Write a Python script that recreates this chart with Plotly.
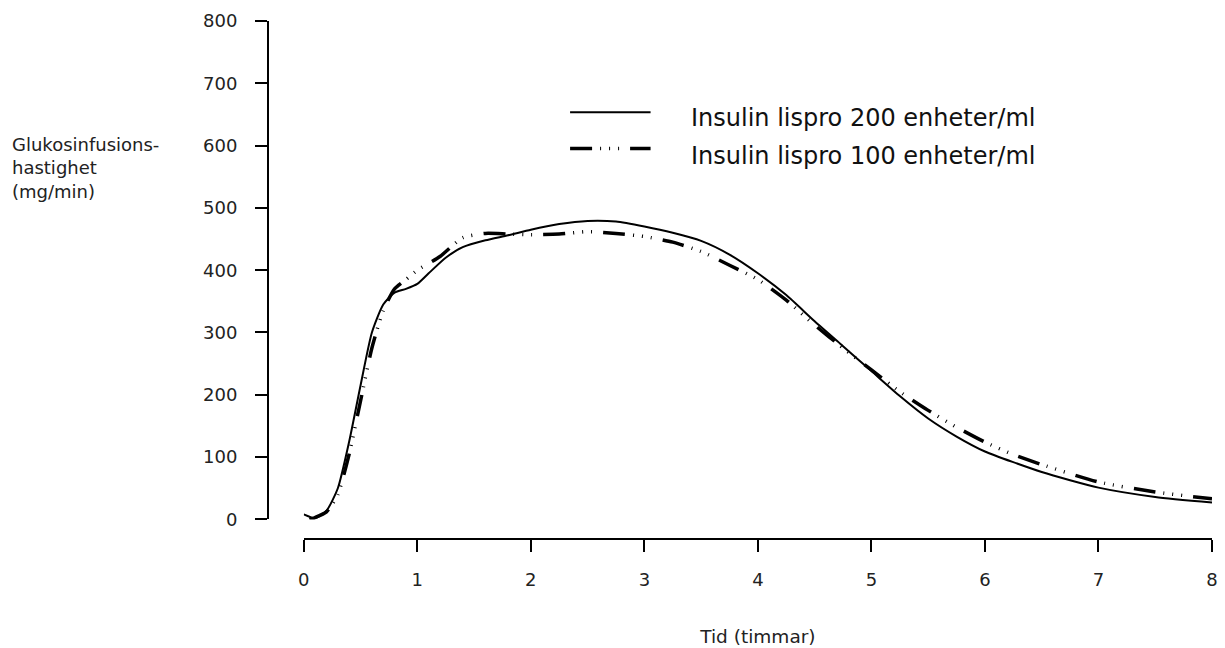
import plotly.graph_objects as go

# ---- data ----
t_200 = [0, 0.1, 0.2, 0.3, 0.4, 0.5, 0.6, 0.7, 0.8, 0.9, 1.0, 1.1, 1.25, 1.4, 1.6, 1.8,
         2.0, 2.25, 2.5, 2.75, 3.0, 3.25, 3.5, 3.75, 4.0, 4.25, 4.5, 4.75, 5.0, 5.25,
         5.5, 5.75, 6.0, 6.5, 7.0, 7.5, 8.0]
v_200 = [8, 2, 14, 50, 125, 215, 300, 345, 364, 370, 378, 395, 420, 437, 448, 456,
         465, 474, 479, 478, 470, 460, 447, 425, 395, 360, 318, 278, 238, 198,
         162, 133, 109, 76, 51, 36, 27]

t_100 = [0.05, 0.1, 0.2, 0.3, 0.4, 0.5, 0.6, 0.7, 0.8, 0.9, 1.0, 1.2, 1.4, 1.6, 1.8,
         2.0, 2.25, 2.5, 2.75, 3.0, 3.25, 3.5, 3.75, 4.0, 4.25, 4.5, 4.75, 5.0, 5.25,
         5.5, 5.75, 6.0, 6.25, 6.5, 7.0, 7.5, 8.0]
v_100 = [0, 3, 12, 40, 105, 190, 275, 335, 370, 385, 400, 422, 452, 459, 458,
         457, 458, 462, 459, 454, 445, 430, 408, 385, 352, 312, 275, 240, 205,
         175, 148, 124, 104, 88, 60, 44, 33]

name_200 = "Insulin lispro 200 enheter/ml"
name_100 = "Insulin lispro 100 enheter/ml"
y_title_lines = ["Glukosinfusions-", "hastighet", "(mg/min)"]
x_title = "Tid (timmar)"
x_ticks = [0, 1, 2, 3, 4, 5, 6, 7, 8]
y_ticks = [0, 100, 200, 300, 400, 500, 600, 700, 800]

# ---- styles ----
W, H = 1225, 648
ML, MR, MT, MB = 268, 5, 21, 99
PW, PH = W - ML - MR, H - MT - MB


def px(x):
    return (x - ML) / PW


def py(y):
    return (H - MB - y) / PH


DASH = "22px,8px,1px,8px,1px,8px,1px,11px"
FONT = "DejaVu Sans"

fig = go.Figure()
fig.add_trace(go.Scatter(x=t_200, y=v_200, mode="lines", name=name_200,
                         line=dict(color="black", width=2, shape="spline", smoothing=0.6),
                         showlegend=False))
fig.add_trace(go.Scatter(x=t_100, y=v_100, mode="lines", name=name_100,
                         line=dict(color="black", width=3.5, dash=DASH, shape="spline", smoothing=0.6),
                         showlegend=False))

axis_common = dict(showgrid=False, zeroline=False, showline=True, linecolor="black",
                   linewidth=2, ticks="outside", ticklen=12, tickwidth=2, tickcolor="black",
                   tickfont=dict(family=FONT, size=18, color="#222"))

fig.update_layout(
    width=W, height=H,
    margin=dict(l=ML, r=MR, t=MT, b=MB),
    paper_bgcolor="white", plot_bgcolor="white",
    xaxis=dict(range=[0, 8], domain=[px(304), px(1218)], anchor="free", position=0,
               tickvals=x_ticks, ticklabelstandoff=12,
               title=dict(text=x_title, font=dict(family=FONT, size=18.5, color="#222"), standoff=40),
               **axis_common),
    yaxis=dict(range=[0, 800], domain=[py(529), py(21)], anchor="free", position=0,
               tickvals=y_ticks, ticklabelstandoff=14, **axis_common),
)

# y-axis title (three lines, left aligned, one text block)
fig.add_annotation(xref="paper", yref="paper", x=px(8), y=py(171),
                   xanchor="left", yanchor="middle", align="left", showarrow=False,
                   text="<br>".join(y_title_lines),
                   font=dict(family=FONT, size=18, color="#222"))

# manual legend
leg = [(name_200, dict(color="black", width=2), 114, 120),
       (name_100, dict(color="black", width=3.5, dash=DASH), 151, 159)]
for text, ln, ly, ty in leg:
    fig.add_shape(type="line", xref="paper", yref="paper", x0=px(572), x1=px(653),
                  y0=py(ly), y1=py(ly), line=ln)
    fig.add_annotation(xref="paper", yref="paper", x=px(692), y=py(ty), xanchor="left",
                       yanchor="middle", showarrow=False, text=text,
                       font=dict(family=FONT, size=24, color="#111"))

fig.write_html("out.html", config={"displayModeBar": False},
               post_script="document.body.style.margin='0';")
